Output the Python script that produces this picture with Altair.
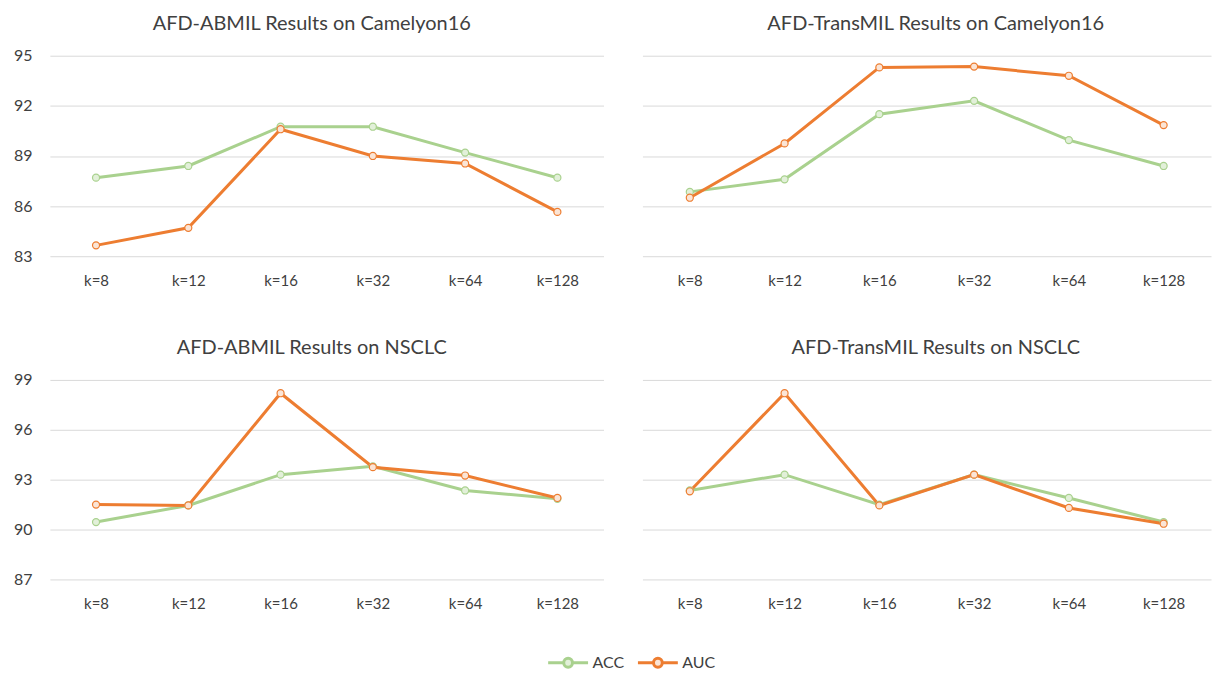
import altair as alt
import pandas as pd

ks = ["k=8", "k=12", "k=16", "k=32", "k=64", "k=128"]
series_names = ["ACC", "AUC"]

abmil_cam_acc = [87.7, 88.4, 90.75, 90.75, 89.2, 87.7]
abmil_cam_auc = [83.65, 84.7, 90.6, 89.0, 88.55, 85.65]
trans_cam_acc = [86.85, 87.6, 91.5, 92.3, 89.95, 88.4]
trans_cam_auc = [86.5, 89.75, 94.3, 94.35, 93.8, 90.85]
abmil_nsclc_acc = [90.45, 91.45, 93.3, 93.8, 92.35, 91.85]
abmil_nsclc_auc = [91.5, 91.45, 98.2, 93.75, 93.25, 91.9]
trans_nsclc_acc = [92.35, 93.3, 91.5, 93.3, 91.9, 90.45]
trans_nsclc_auc = [92.3, 98.2, 91.45, 93.3, 91.3, 90.35]

cam_ticks = [83, 86, 89, 92, 95]
nsclc_ticks = [87, 90, 93, 96, 99]

FONT = "Lato"
LINE_COLORS = ["#A9D18E", "#ED7D31"]
FILL_COLORS = ["#E2F0D9", "#FBE5D6"]
SYMBOL = "M-1,0H-0.22M0.22,0H1M-0.22,0A0.22,0.22 0 1,0 0.22,0A0.22,0.22 0 1,0 -0.22,0Z"


def panel(title, acc, auc, ticks, show_y, width, height, title_dx):
    rows = []
    for s, vals in zip(series_names, [acc, auc]):
        for k, v in zip(ks, vals):
            rows.append({"k": k, "series": s, "value": v})
    df = pd.DataFrame(rows)
    legend = alt.Legend(
        title=None,
        symbolType=SYMBOL,
        symbolSize=1600,
        symbolStrokeWidth=3,
        symbolFillColor="white",
        labelFontSize=16,
        labelColor="#404040",
        labelFont=FONT,
        labelOffset=3,
        orient="none",
        legendX=498,
        legendY=587,
        direction="horizontal",
        columnPadding=7,
    )
    x = alt.X(
        "k:N",
        sort=ks,
        scale=alt.Scale(type="point", padding=0.5),
        axis=alt.Axis(
            title=None, labelAngle=0, domain=False, ticks=False, grid=False,
            labelPadding=17, labelFontSize=15, labelColor="#404040", labelFont=FONT,
        ),
    )
    y = alt.Y(
        "value:Q",
        scale=alt.Scale(domain=[ticks[0], ticks[-1]], nice=False, zero=False),
        axis=alt.Axis(
            title=None, values=ticks, domain=False, ticks=False, grid=True,
            gridColor="#D9D9D9", gridWidth=1,
            labelOpacity=1 if show_y else 0,
            labelPadding=18, labelFontSize=16, labelColor="#404040", labelFont=FONT,
        ),
    )
    color = alt.Color(
        "series:N",
        scale=alt.Scale(domain=series_names, range=LINE_COLORS),
        legend=legend,
    )
    base = alt.Chart(df)
    lines = base.mark_line(strokeWidth=3).encode(x=x, y=y, color=color, detail="series:N")
    points = base.mark_point(filled=False, size=50, strokeWidth=1.2, opacity=1).encode(
        x=x,
        y=y,
        color=color,
        fill=alt.Fill(
            "series:N",
            scale=alt.Scale(domain=series_names, range=FILL_COLORS),
            legend=None,
        ),
    )
    return alt.layer(lines, points).properties(
        width=width,
        height=height,
        title=alt.TitleParams(
            title, fontSize=20, font=FONT, fontWeight="normal", color="#404040",
            anchor="middle", offset=14, dx=title_dx,
        ),
    )


p1 = panel("AFD-ABMIL Results on Camelyon16", abmil_cam_acc, abmil_cam_auc, cam_ticks, True, 555, 201, -15)
p2 = panel("AFD-TransMIL Results on Camelyon16", trans_cam_acc, trans_cam_auc, cam_ticks, False, 570, 201, 9)
p3 = panel("AFD-ABMIL Results on NSCLC", abmil_nsclc_acc, abmil_nsclc_auc, nsclc_ticks, True, 555, 200, -15)
p4 = panel("AFD-TransMIL Results on NSCLC", trans_nsclc_acc, trans_nsclc_auc, nsclc_ticks, False, 570, 200, 9)

top = alt.hconcat(p1, p2, spacing=2)
bottom = alt.hconcat(p3, p4, spacing=2)
chart = (
    alt.vconcat(top, bottom, spacing=50)
    .resolve_scale(y="independent")
    .configure(background="white", padding=5)
    .configure_view(strokeWidth=0)
)

chart.save("out.html", embed_options={"renderer": "svg", "actions": False})
